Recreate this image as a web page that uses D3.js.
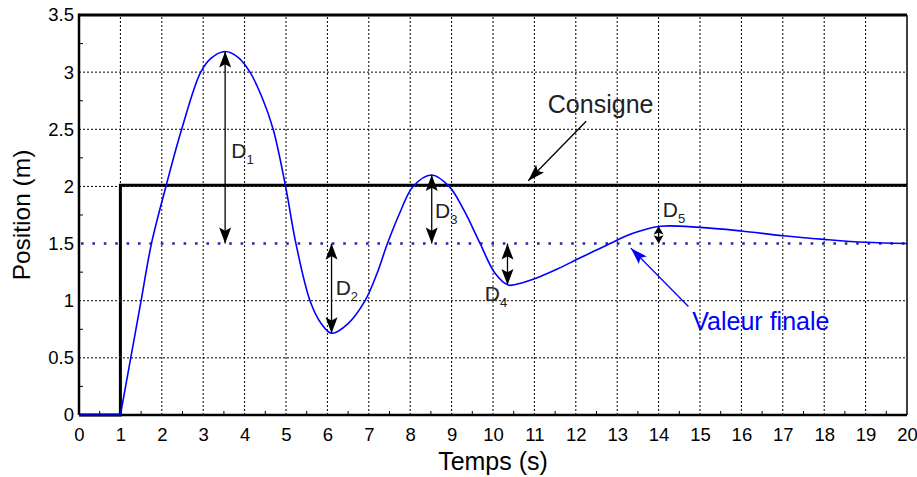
<!DOCTYPE html>
<html><head><meta charset="utf-8">
<script src="https://cdn.jsdelivr.net/npm/d3@7"></script>
<style>body{margin:0;background:#fff}svg{display:block;font-family:"Liberation Sans",Arial,sans-serif}</style>
</head><body><svg id="c" width="917" height="477"></svg>
<script>
// ---- data ----
const respT = [1,1.25,1.5,1.75,2.1,2.48,2.94,3.2,3.53,3.85,4.13,4.42,4.69,4.99,5.24,5.58,5.85,6.10,6.5,6.91,7.2,7.45,7.75,8.07,8.52,8.94,9.3,9.69,10.05,10.37,10.73,11.13,11.54,12.02,12.42,12.83,13.2,13.55,14.05,15,16,17,18,19,20];
const respV = [0,0.5,1.0,1.5,2.0,2.5,3.0,3.125,3.18,3.128,3.0,2.78,2.5,2.0,1.5,1.0,0.80,0.715,0.80,1.0,1.24,1.5,1.77,2.0,2.10,2.0,1.79,1.5,1.24,1.137,1.16,1.21,1.275,1.36,1.43,1.5,1.565,1.61,1.652,1.642,1.61,1.569,1.537,1.511,1.50];
const preT = [0,1], preV = [0,0];
const consT = [0,1,1,20], consV = [0,0,2.01,2.01];
const finalValue = 1.5;
const xTicks = d3.range(0,21,1);
const yTicks = [0,0.5,1,1.5,2,2.5,3,3.5];
// overshoot arrows
const dT = [3.53,6.10,8.52,10.35,14.0];
const dFrom = [3.18,1.5,2.10,1.5,1.652];
const dTo = [1.5,0.715,1.5,1.137,1.5];
const dSub = ["1","2","3","4","5"];
const dLabT = [3.68,6.2,8.6,9.8,14.1];
const dLabV = [2.25,1.05,1.72,1.0,1.73];

const W=917,H=477,m={l:79,r:10,t:15,b:62};
const svg=d3.select("#c");
const x=d3.scaleLinear().domain([0,20]).range([m.l,W-m.r]);
const y=d3.scaleLinear().domain([0,3.5]).range([H-m.b,m.t]);

// grid
const g=svg.append("g");
g.selectAll(".gx").data(xTicks.slice(1,-1)).join("line")
 .attr("x1",d=>x(d)).attr("x2",d=>x(d)).attr("y1",y(0)).attr("y2",y(3.5))
 .attr("stroke","#000").attr("stroke-width",1).attr("stroke-dasharray","2,2");
g.selectAll(".gy").data(yTicks.slice(1,-1).filter(d=>d!==finalValue)).join("line")
 .attr("y1",d=>y(d)).attr("y2",d=>y(d)).attr("x1",x(0)).attr("x2",x(20))
 .attr("stroke","#000").attr("stroke-width",1).attr("stroke-dasharray","2,2");

// minor ticks
g.selectAll(".mx").data(d3.range(0.5,20,1)).join("line")
 .attr("x1",d=>x(d)).attr("x2",d=>x(d)).attr("y1",y(0)).attr("y2",y(0)-4).attr("stroke","#000");
g.selectAll(".my").data(d3.range(0.25,3.5,0.5)).join("line")
 .attr("y1",d=>y(d)).attr("y2",d=>y(d)).attr("x1",x(0)).attr("x2",x(0)+4).attr("stroke","#000");

// axes
const xa=svg.append("g").attr("transform",`translate(0,${y(0)})`)
 .call(d3.axisBottom(x).tickValues(xTicks).tickSize(0).tickPadding(12).tickFormat(d=>d));
const ya=svg.append("g").attr("transform",`translate(${x(0)},0)`)
 .call(d3.axisLeft(y).tickValues(yTicks).tickSize(0).tickPadding(5).tickFormat(d=>d));
[xa,ya].forEach(a=>{a.select(".domain").remove();a.selectAll("text").attr("font-size",18.5).attr("fill","#000").attr("font-family","Liberation Sans, Arial, sans-serif");});
xa.selectAll("text").attr("dy","0.71em").attr("y",13);

// frame
svg.append("line").attr("x1",x(0)).attr("x2",x(20)).attr("y1",y(3.5)).attr("y2",y(3.5)).attr("stroke","#000").attr("stroke-width",3);
svg.append("line").attr("x1",x(20)).attr("x2",x(20)).attr("y1",y(3.5)).attr("y2",y(0)).attr("stroke","#000").attr("stroke-width",1.5);
svg.append("line").attr("x1",x(0)).attr("x2",x(0)).attr("y1",y(3.5)-1.5).attr("y2",y(0)).attr("stroke","#000").attr("stroke-width",2.5);
svg.append("line").attr("x1",x(0)).attr("x2",x(20)).attr("y1",y(0)).attr("y2",y(0)).attr("stroke","#000").attr("stroke-width",2.5);

// final value dotted
svg.append("line").attr("x1",x(0)+2).attr("x2",x(20)).attr("y1",y(finalValue)).attr("y2",y(finalValue))
 .attr("stroke","#2626a6").attr("stroke-width",2.6).attr("stroke-dasharray","2.6,8.8");

// consigne
const lineC=d3.line().x((d,i)=>x(consT[i])).y((d,i)=>y(consV[i]));
svg.append("path").attr("d",lineC(consT)).attr("fill","none").attr("stroke","#000").attr("stroke-width",3);

// response
const lineP=d3.line().x((d,i)=>x(preT[i])).y((d,i)=>y(preV[i]));
svg.append("path").attr("d",lineP(preT)).attr("fill","none").attr("stroke","#0000ff").attr("stroke-width",1.6);
const lineR=d3.line().curve(d3.curveCatmullRom.alpha(0.5)).x((d,i)=>x(respT[i])).y((d,i)=>y(respV[i]));
svg.append("path").attr("d",lineR(respT)).attr("fill","none").attr("stroke","#0000ff").attr("stroke-width",1.6);

// arrowheads
function head(x1,y1,x2,y2,len,w,col){
  const a=Math.atan2(y2-y1,x2-x1),c=Math.cos(a),s=Math.sin(a);
  const bx=x2-len*c,by=y2-len*s, nx=x2-(len*0.8)*c, ny=y2-(len*0.8)*s;
  svg.append("path").attr("d",`M${x2},${y2}L${bx-w/2*s},${by+w/2*c}L${nx},${ny}L${bx+w/2*s},${by-w/2*c}Z`).attr("fill",col);
}
function dbl(x0,y1,y2,len,w){
  svg.append("line").attr("x1",x0).attr("x2",x0).attr("y1",y1).attr("y2",y2).attr("stroke","#000").attr("stroke-width",1.3);
  head(x0,(y1+y2)/2,x0,y1,len,w,"#000");head(x0,(y1+y2)/2,x0,y2,len,w,"#000");
}
dT.forEach((t,i)=>{
  const y1=y(dFrom[i]),y2=y(dTo[i]),L=Math.abs(y2-y1);
  const len=Math.min(16,L/2.1), w=len<12?10:12;
  dbl(x(t),y1,y2,len,w);
  const tx=svg.append("text").attr("x",x(dLabT[i])).attr("y",y(dLabV[i])).attr("fill","#222").attr("font-size",21);
  tx.append("tspan").text("D");
  tx.append("tspan").text(dSub[i]).attr("font-size",13).attr("dy",6);
});

// consigne label + arrow
const consLab=[12.6,2.64], consA=[12.25,2.57], consB=[10.85,2.05];
svg.append("text").attr("x",x(consLab[0])).attr("y",y(consLab[1])).attr("text-anchor","middle").attr("font-size",25).attr("fill","#222").text("Consigne");
svg.append("line").attr("x1",x(consA[0])).attr("y1",y(consA[1])).attr("x2",x(consB[0])).attr("y2",y(consB[1])).attr("stroke","#000").attr("stroke-width",1.3);
head(x(consA[0]),y(consA[1]),x(consB[0]),y(consB[1]),17,11,"#000");

// valeur finale label + arrow
const vfLab=[16.47,0.74], vfA=[14.72,0.95], vfB=[13.33,1.46];
svg.append("text").attr("x",x(vfLab[0])).attr("y",y(vfLab[1])).attr("text-anchor","middle").attr("font-size",25).attr("fill","#0000ff").text("Valeur finale");
svg.append("line").attr("x1",x(vfA[0])).attr("y1",y(vfA[1])).attr("x2",x(vfB[0])).attr("y2",y(vfB[1])).attr("stroke","#0000ff").attr("stroke-width",1.3);
head(x(vfA[0]),y(vfA[1]),x(vfB[0]),y(vfB[1]),17,11,"#0000ff");

// axis titles
svg.append("text").attr("x",(x(0)+x(20))/2).attr("y",470).attr("text-anchor","middle").attr("font-size",25).attr("fill","#000").text("Temps (s)");
svg.append("text").attr("transform",`translate(30,${(y(0)+y(3.5))/2}) rotate(-90)`).attr("text-anchor","middle").attr("font-size",24.5).attr("fill","#000").text("Position (m)");
</script></body></html>
